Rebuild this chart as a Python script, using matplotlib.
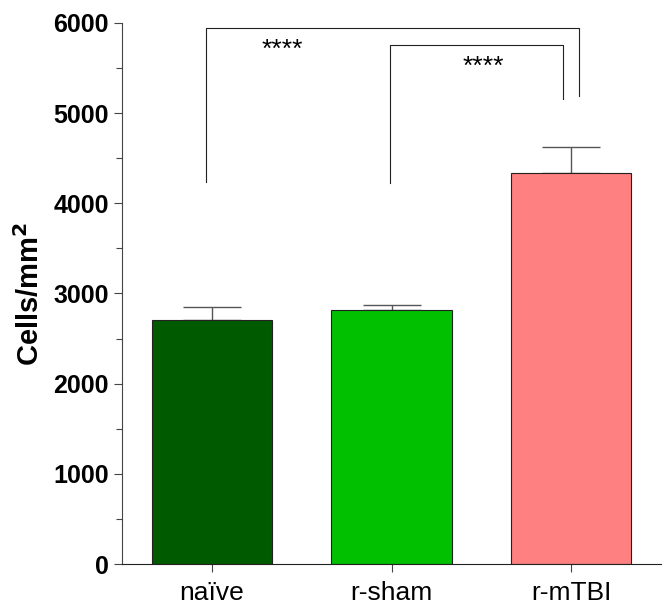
import matplotlib
matplotlib.use("Agg")
import matplotlib.pyplot as plt
from matplotlib.ticker import MultipleLocator

groups = ["naïve", "r-sham", "r-mTBI"]
means = [2700, 2815, 4335]
errors = [150, 55, 285]
colors = ["#005a00", "#00c000", "#ff8080"]

# significance brackets: left leg x, right leg x, left bottom, right bottom, top, label
brackets = [
    (-0.03, 2.043, 4235, 5188, 5942, "****"),
    (0.994, 1.953, 4224, 5155, 5754, "****"),
]
star_x = [0.39, 1.51]

plt.rcParams["font.family"] = ["Liberation Sans", "DejaVu Sans"]

fig = plt.figure(figsize=(6.63, 6.06), dpi=100)
ax = fig.add_axes([0.184, 0.0693, 0.813, 0.893])

x = list(range(len(groups)))
ax.bar(x, means, width=0.67, color=colors, edgecolor="#222222", linewidth=0.8, zorder=2)
ax.errorbar(x, means, yerr=[[0] * 3, errors], fmt="none", ecolor="#555555",
            elinewidth=1.0, capsize=21, capthick=1.0, zorder=1)

for (x1, x2, b1, b2, top, lab), sx in zip(brackets, star_x):
    ax.plot([x1, x1, x2, x2], [b1, top, top, b2], color="#222222", lw=0.8)
    ax.text(sx, top - 110, lab, ha="center", va="top", fontsize=19)

ax.set_xlim(-0.5, 2.5)
ax.set_ylim(0, 6000)
ax.set_xticks(x)
ax.set_xticklabels(groups, fontsize=19)
ax.yaxis.set_major_locator(MultipleLocator(1000))
ax.yaxis.set_minor_locator(MultipleLocator(500))
for lab in ax.get_yticklabels():
    lab.set_fontweight("bold")
    lab.set_fontsize(18)
ax.set_ylabel("Cells/mm$^\\mathbf{2}$", fontsize=21, fontweight="bold", labelpad=6)

ax.spines["top"].set_visible(False)
ax.spines["right"].set_visible(False)
ax.spines["left"].set_color("#444444")
ax.spines["bottom"].set_color("#222222")
ax.tick_params(axis="both", which="major", direction="out", length=6, width=0.8, colors="#444444", labelcolor="black")
ax.tick_params(axis="y", which="minor", direction="out", length=4, width=0.8, colors="#444444")
ax.tick_params(axis="x", pad=6)

fig.savefig("out.png", dpi=100)
